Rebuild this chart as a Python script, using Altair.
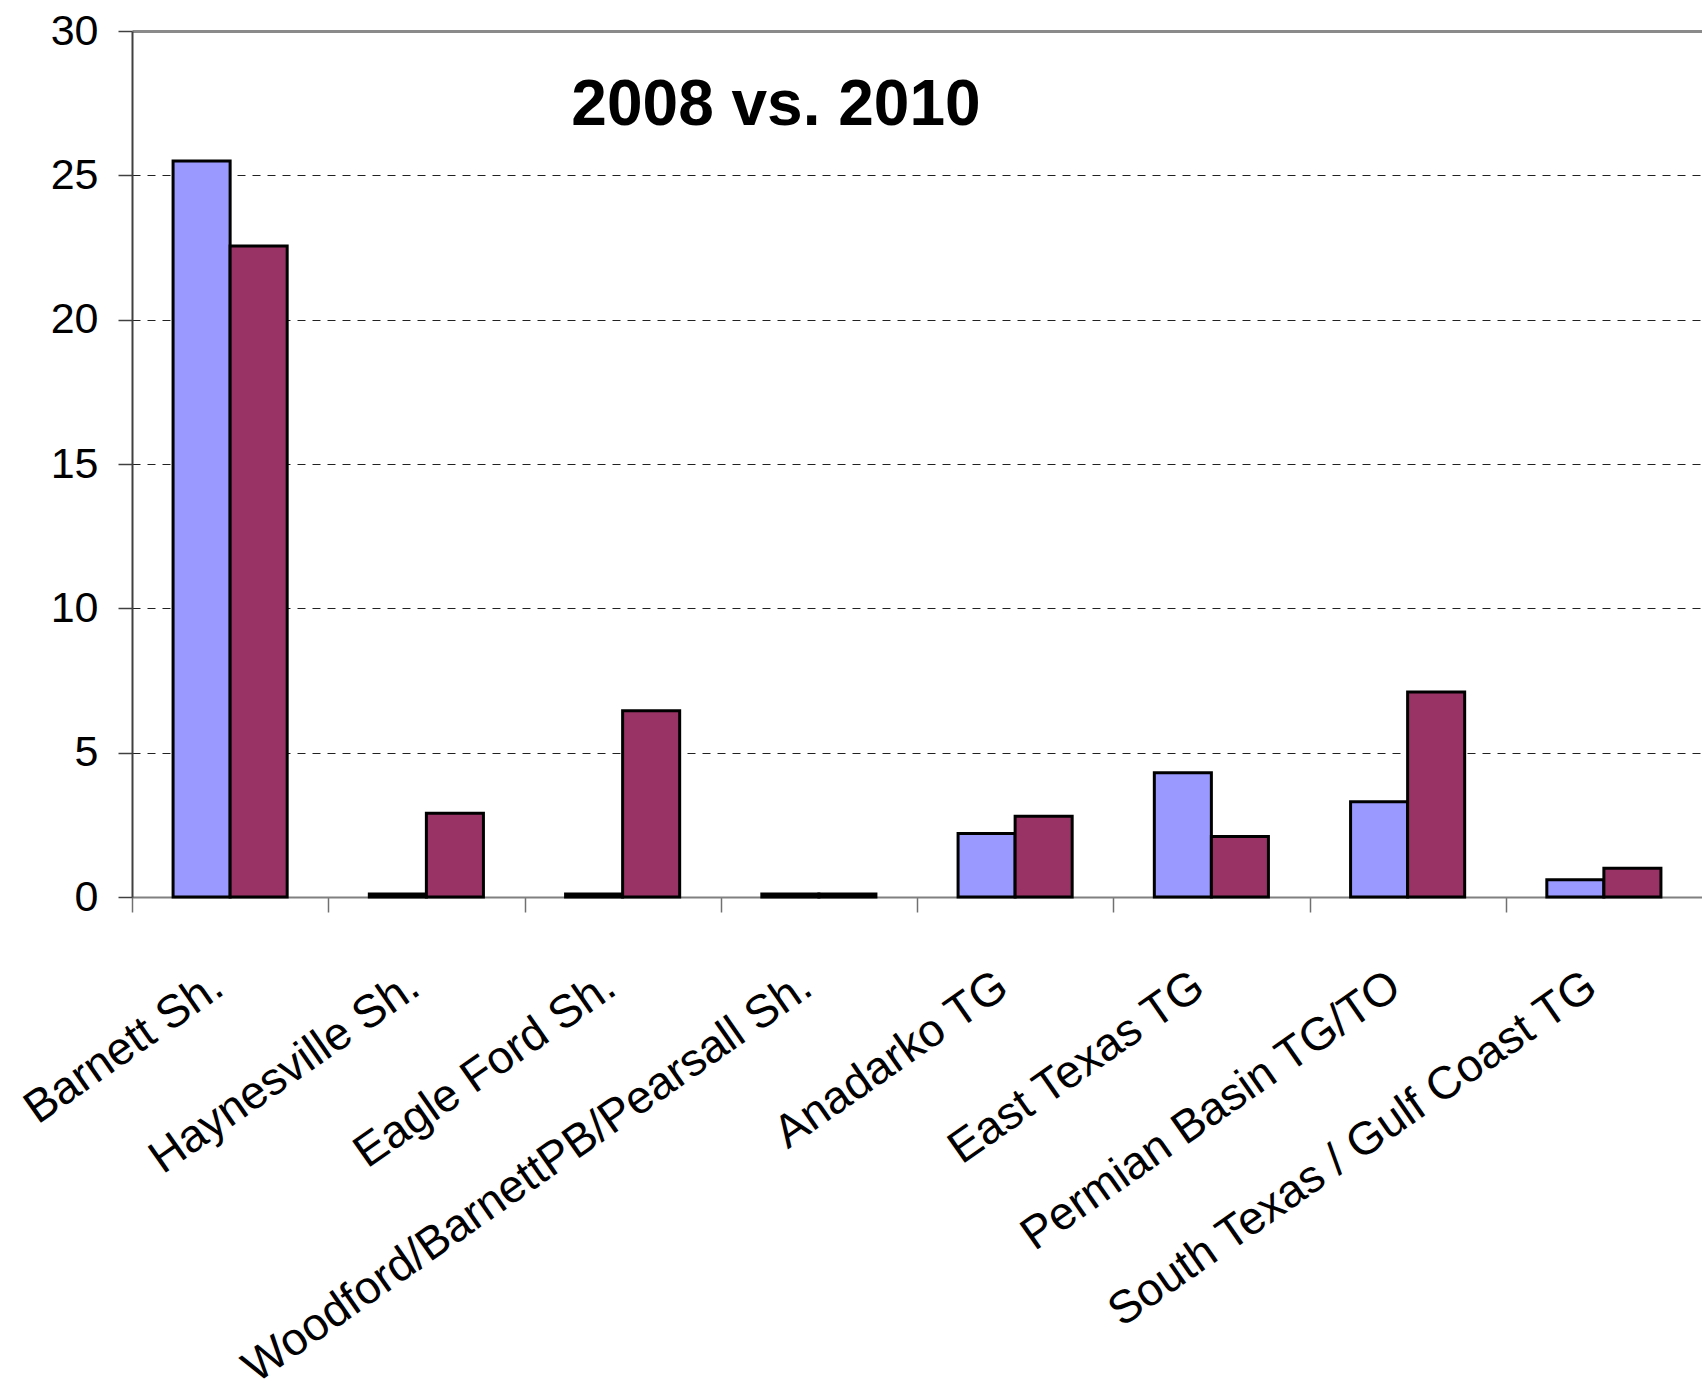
import altair as alt
import pandas as pd

# Categories and the two series (2008, 2010)
categories = [
    "Barnett Sh.",
    "Haynesville Sh.",
    "Eagle Ford Sh.",
    "Woodford/BarnettPB/Pearsall Sh.",
    "Anadarko TG",
    "East Texas TG",
    "Permian Basin TG/TO",
    "South Texas / Gulf Coast TG",
]
values_2008 = [25.5, 0.1, 0.1, 0.1, 2.2, 4.3, 3.3, 0.6]
values_2010 = [22.55, 2.9, 6.45, 0.1, 2.8, 2.1, 7.1, 1.0]
years = ["2008", "2010"]
year_colors = ["#9999FF", "#993366"]
y_ticks = [0, 5, 10, 15, 20, 25, 30]
title_text = "2008 vs. 2010"

rows = []
for cat, v08, v10 in zip(categories, values_2008, values_2010):
    rows.append({"category": cat, "year": "2008", "value": v08})
    rows.append({"category": cat, "year": "2010", "value": v10})
df = pd.DataFrame(rows)

FONT = "Liberation Sans"
PLOT_W = 1570
PLOT_H = 866
step = PLOT_W / len(categories)

bars = alt.Chart(df).mark_bar(stroke="black", strokeWidth=3, strokeJoin="miter").encode(
    x=alt.X(
        "category:N",
        sort=categories,
        scale=alt.Scale(paddingInner=0, paddingOuter=0),
        axis=alt.Axis(
            title=None,
            labelAngle=325,
            labelAlign="right",
            labelBaseline="top",
            labelFont=FONT,
            labelFontSize=46,
            labelColor="black",
            labelPadding=51,
            labelOffset=73,
            labelLimit=0,
            labelOverlap=False,
            labelFlush=False,
            tickOffset=-step / 2,
            tickSize=15,
            tickColor="#707070",
            tickWidth=1.5,
            domainColor="#808080",
            domainWidth=2,
        ),
    ),
    xOffset=alt.XOffset(
        "year:N",
        sort=years,
        scale=alt.Scale(paddingInner=0, paddingOuter=0.72),
    ),
    y=alt.Y(
        "value:Q",
        scale=alt.Scale(domain=[0, 30], nice=False, zero=True),
        axis=alt.Axis(
            title=None,
            values=y_ticks,
            labelFont=FONT,
            labelFontSize=43,
            labelColor="black",
            labelPadding=20,
            tickSize=14,
            tickColor="#404040",
            tickWidth=1.5,
            domainColor="#404040",
            domainWidth=2,
            grid=True,
            gridDash={"condition": {"test": "datum.value === 30", "value": []}, "value": [8, 7]},
            gridColor={"condition": {"test": "datum.value === 30", "value": "#8a8a8a"}, "value": "#222222"},
            gridWidth={"condition": {"test": "datum.value === 30", "value": 3}, "value": 1},
            gridOpacity={"condition": {"test": "datum.value === 0", "value": 0}, "value": 1},
        ),
    ),
    color=alt.Color("year:N", scale=alt.Scale(domain=years, range=year_colors), legend=None),
)

title = alt.Chart(pd.DataFrame({"t": [title_text]})).mark_text(
    font=FONT, fontSize=64, fontWeight="bold", align="center", baseline="alphabetic", color="black"
).encode(text="t:N", x=alt.value(644), y=alt.value(94))

chart = alt.layer(bars, title).properties(
    width=PLOT_W,
    height=PLOT_H,
    padding={"left": 132, "top": 31, "right": 0, "bottom": 498},
    autosize=alt.AutoSizeParams(type="none"),
    background="white",
).configure_view(stroke=None)

chart.save("out.html", embed_options={"renderer": "svg", "actions": False})
